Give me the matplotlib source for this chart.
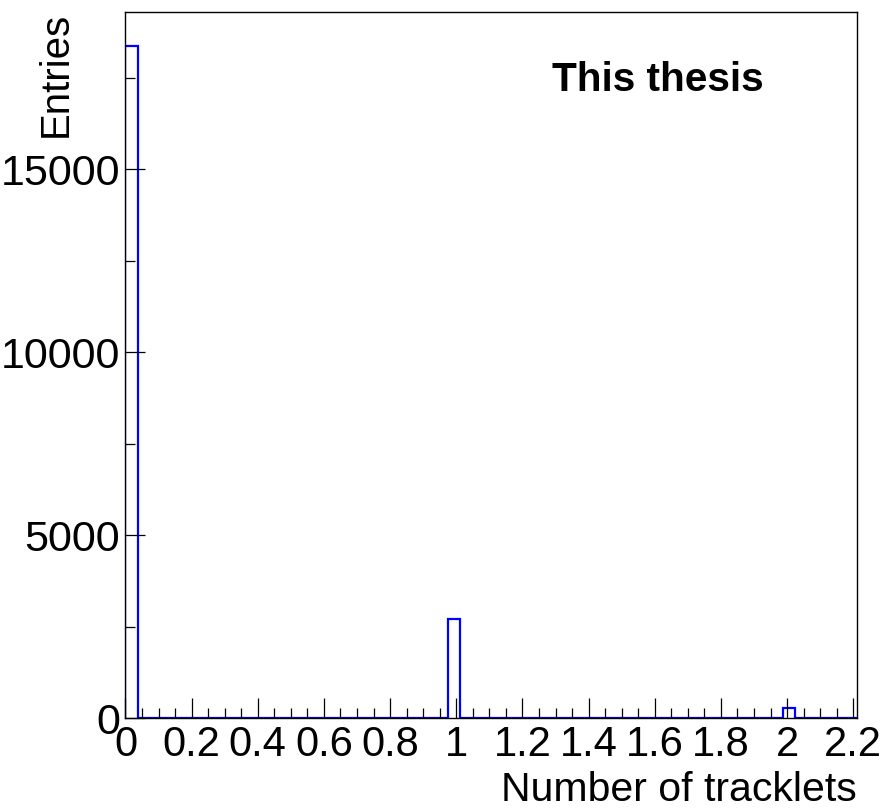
import numpy as np
import matplotlib
matplotlib.use("Agg")
import matplotlib.pyplot as plt
from matplotlib.ticker import MultipleLocator

# Histogram data
bin_width = 0.0375
n_bins = 59
counts = np.zeros(n_bins)
peak_bins = [0, 26, 53]
peak_counts = [18370, 2713, 290]
counts[peak_bins] = peak_counts
edges = np.arange(n_bins + 1) * bin_width

x_label = "Number of tracklets"
y_label = "Entries"
note = "This thesis"

plt.rcParams['font.family'] = ['Liberation Sans', 'DejaVu Sans']

W, H = 883, 809
fig = plt.figure(figsize=(W / 100, H / 100), dpi=100)
ax = fig.add_axes([0.1421, 0.1121, 0.9702 - 0.1421, 0.9852 - 0.1121])

ax.stairs(counts, edges, color='#0000ff', lw=1.6, baseline=0)

ax.set_xlim(0, edges[-1] - 0.002)
ax.set_ylim(0, 19300)

ax.xaxis.set_major_locator(MultipleLocator(0.2))
ax.xaxis.set_minor_locator(MultipleLocator(0.05))
ax.yaxis.set_major_locator(MultipleLocator(5000))
ax.yaxis.set_minor_locator(MultipleLocator(2500))

ax.tick_params(axis='both', which='major', direction='in', length=14.5, width=0.9,
               color='black', top=False, right=False)
ax.tick_params(axis='both', which='minor', direction='in', length=7.2, width=0.9,
               color='black', top=False, right=False)
ax.tick_params(axis='x', which='major', labelsize=30, pad=5)
ax.tick_params(axis='y', which='major', labelsize=31, pad=4)

ax.set_xticklabels([f"{v:g}" for v in ax.get_xticks()])

for s in ax.spines.values():
    s.set_linewidth(1.0)
    s.set_color('black')

fig.text(857 / W, 1 - 801 / H, x_label, fontsize=29.5, ha='right', va='baseline')
fig.text(56 / W, 1 - 12 / H, y_label, fontsize=29, rotation=90,
         ha='center', va='top')

fig.text(552 / W, 1 - 91 / H, note, fontsize=29.2, fontweight='bold',
         ha='left', va='baseline')

fig.savefig("out.png", dpi=100)
